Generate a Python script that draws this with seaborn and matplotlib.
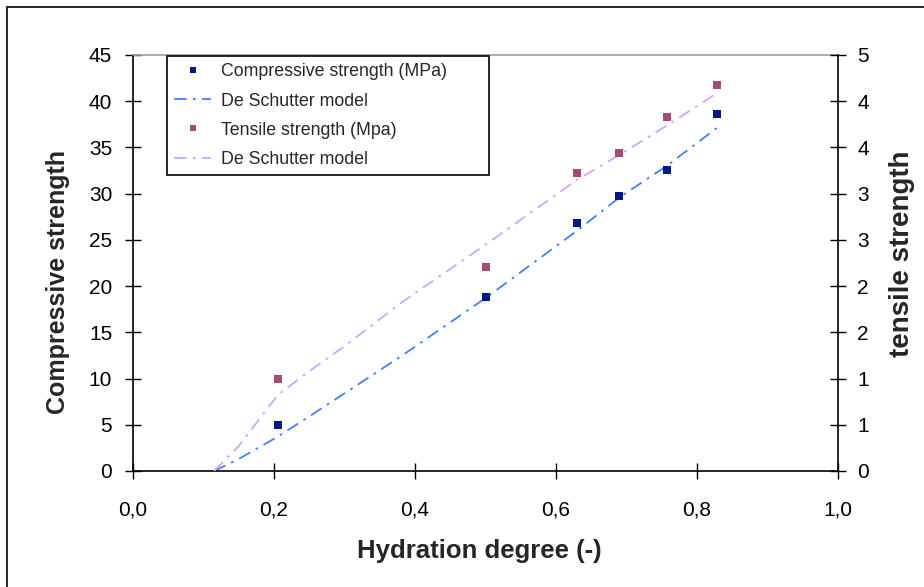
import matplotlib
matplotlib.use("Agg")
import matplotlib.pyplot as plt
import seaborn as sns
import pandas as pd
from matplotlib.patches import Rectangle
from matplotlib.lines import Line2D

# ---- data ----
alpha_exp = [0.205, 0.5, 0.63, 0.69, 0.757, 0.828]
comp_exp = [4.97, 18.8, 26.8, 29.7, 32.6, 38.6]
tens_exp = [1.1, 2.45, 3.58, 3.82, 4.25, 4.64]

alpha_mod = [0.115, 0.15, 0.205, 0.25, 0.3, 0.38, 0.5, 0.63, 0.69, 0.757, 0.828]
comp_mod = [0.0, 1.3, 3.7, 5.9, 8.4, 12.4, 18.7, 26.0, 29.6, 33.0, 37.1]
tens_mod = [0.0, 0.3, 0.91, 1.2, 1.5, 2.02, 2.72, 3.5, 3.8, 4.15, 4.54]

x_ticks = [0.0, 0.2, 0.4, 0.6, 0.8, 1.0]
x_ticklabels = ["0,0", "0,2", "0,4", "0,6", "0,8", "1,0"]
y_ticks = [0, 5, 10, 15, 20, 25, 30, 35, 40, 45]
y2_ticks = [0, 5 / 9, 10 / 9, 15 / 9, 20 / 9, 25 / 9, 30 / 9, 35 / 9, 40 / 9, 5]
y2_ticklabels = ["0", "1", "1", "2", "2", "3", "3", "4", "4", "5"]

labels = ["Compressive strength (MPa)", "De Schutter model",
          "Tensile strength (Mpa)", "De Schutter model"]

# ---- style ----
sns.set_style("ticks")
plt.rcParams["font.family"] = ["Liberation Sans", "DejaVu Sans"]

c_comp = "#001a8c"
c_comp_line = "#4080ff"
c_tens = "#a64a78"
c_tens_line = "#cfa6ff"
dash = (0, (7, 3.5, 1.5, 3.5))

fig = plt.figure(figsize=(9.24, 5.87), dpi=100)
ax = fig.add_axes([133 / 924, 1 - 471 / 587, (838 - 133) / 924, (471 - 55) / 587])
ax2 = ax.twinx()

df_exp = pd.DataFrame({"alpha": alpha_exp, "comp": comp_exp, "tens": tens_exp})
df_mod = pd.DataFrame({"alpha": alpha_mod, "comp": comp_mod, "tens": tens_mod})

sns.lineplot(data=df_mod, x="alpha", y="comp", ax=ax, color=c_comp_line,
             linestyle=dash, linewidth=1.3, sort=False, zorder=2)
sns.scatterplot(data=df_exp, x="alpha", y="comp", ax=ax, color=c_comp,
                marker="s", s=30, linewidth=0, zorder=3)
sns.lineplot(data=df_mod, x="alpha", y="tens", ax=ax2, color=c_tens_line,
             linestyle=dash, linewidth=1.3, sort=False, zorder=2)
sns.scatterplot(data=df_exp, x="alpha", y="tens", ax=ax2, color=c_tens,
                marker="s", s=30, linewidth=0, zorder=3)

ax.set_xlim(0, 1.0)
ax.set_ylim(0, 45)
ax2.set_ylim(0, 5)
ax.set_xticks(x_ticks)
ax.set_xticklabels(x_ticklabels)
ax.set_yticks(y_ticks)
ax2.set_yticks(y2_ticks)
ax2.set_yticklabels(y2_ticklabels)

for a in (ax, ax2):
    a.tick_params(direction="inout", length=11.5, width=1, labelsize=15,
                  colors="black")
    for s in a.spines.values():
        s.set_linewidth(1.2)
        s.set_color("black")
ax.tick_params(axis="x", pad=15.5)
ax.tick_params(axis="y", pad=9.2)
ax2.tick_params(axis="y", pad=8)
ax.spines["top"].set_color("#a0a0a0")
ax2.spines["top"].set_visible(False)
ax.spines["right"].set_visible(False)
ax2.spines["left"].set_visible(False)
ax2.spines["bottom"].set_visible(False)

ax.set_xlabel("Hydration degree (-)", fontsize=18.5, fontweight="bold", va="center")
ax.xaxis.set_label_coords(0.491, (471 - 551) / 416)
ax.set_ylabel("Compressive strength", fontsize=18, fontweight="bold", va="center")
ax.yaxis.set_label_coords((58 - 133) / 705, (471 - 282) / 416)
ax2.set_ylabel("tensile strength", fontsize=20, fontweight="bold", rotation=90,
               va="center")
ax2.yaxis.set_label_coords((902 - 133) / 705, (471 - 254) / 416)

handles = [
    Line2D([], [], color=c_comp, marker="s", linestyle="none", markersize=5, markeredgewidth=0),
    Line2D([], [], color=c_comp_line, linestyle=dash, linewidth=1.3),
    Line2D([], [], color=c_tens, marker="s", linestyle="none", markersize=5, markeredgewidth=0),
    Line2D([], [], color=c_tens_line, linestyle=dash, linewidth=1.3),
]
bx0 = (167 - 133) / 705
by1 = (471 - 56) / 416
bw = (489 - 167) / 705
bh = (173 - 56) / 416
leg = ax2.legend(handles, labels, loc="upper left",
                 bbox_to_anchor=(bx0, by1 - bh, bw, bh), mode="expand",
                 borderaxespad=0, frameon=True, fancybox=False, shadow=False,
                 fontsize=12.8, handlelength=2.05, handletextpad=0.55,
                 labelspacing=0.68, borderpad=0.42)
leg.get_frame().set_edgecolor("black")
leg.get_frame().set_linewidth(1.2)
leg.get_frame().set_alpha(1)

# outer chart border (cropped at right/bottom)
fig.patches.append(Rectangle((7 / 924, -0.2), 2.0, 1.2 - 7 / 587,
                             transform=fig.transFigure, fill=False,
                             edgecolor="black", linewidth=1.2))

fig.savefig("out.png", dpi=100)
